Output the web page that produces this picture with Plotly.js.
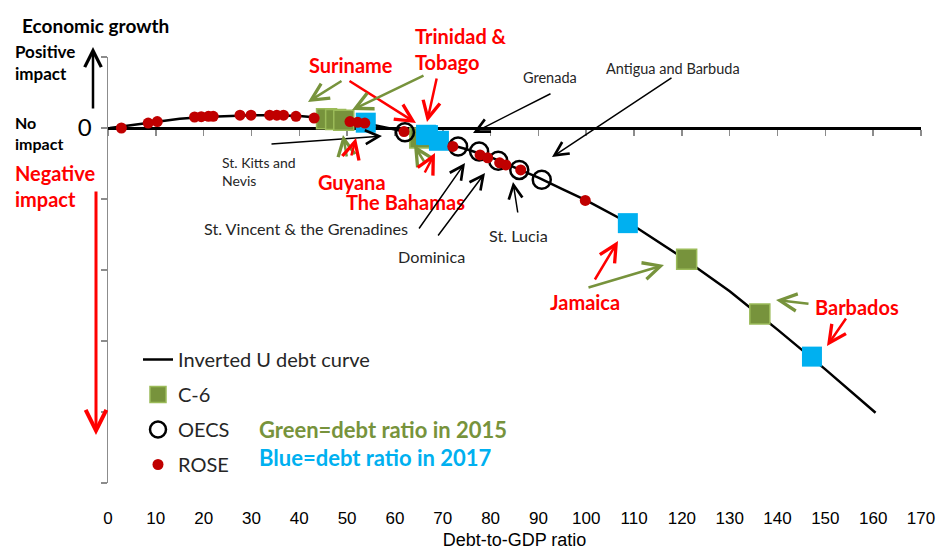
<!DOCTYPE html>
<html><head><meta charset="utf-8">
<script src="https://cdn.plot.ly/plotly-3.0.1.min.js"></script>
<style>html,body{margin:0;padding:0;background:#fff}#chart{width:940px;height:550px}</style>
</head><body><div id="chart"></div>
<script>
// ---- data ----
const xTickVals = [0,10,20,30,40,50,60,70,80,90,100,110,120,130,140,150,160,170];
const xRange = [0, 170];
const yRange = [-5, 1];
const yTickVals = [-5,-4,-3,-2,-1,0,1];
const yTickText = ['','','','','','0',''];

// inverted U debt curve
const curveX = [0.4, 5, 10, 15, 20, 25, 30, 35, 40, 45, 50, 55, 60, 65, 70, 75, 80, 85, 90, 95, 100, 110, 120, 130, 140, 150, 160.5];
const curveY = [0, 0.04, 0.09, 0.13, 0.155, 0.17, 0.18, 0.18, 0.17, 0.14, 0.1, 0.05, -0.02, -0.11, -0.2, -0.3, -0.41, -0.55, -0.7, -0.86, -1.02, -1.38, -1.82, -2.3, -2.84, -3.4, -4.01];

// C-6 debt ratio in 2015 (green) and 2017 (blue)
const c6X2015 = [45.7, 47.6, 49.3, 65.2, 121.0, 136.3];
const c6Y2015 = [0.13, 0.12, 0.11, -0.14, -1.85, -2.62];
const c6X2017 = [53.9, 66.5, 66.9, 69.2, 108.7, 147.2];
const c6Y2017 = [0.075, -0.095, -0.1, -0.18, -1.34, -3.22];

// OECS
const oecsX = [62.1, 73.2, 77.6, 81.6, 86.0, 90.7];
const oecsY = [-0.06, -0.26, -0.33, -0.46, -0.59, -0.73];

// ROSE
const roseX = [2.8, 8.4, 10.3, 18.1, 19.5, 21.0, 22.0, 27.6, 29.9, 33.8, 35.3, 36.7, 39.3, 43.1, 50.6, 52.2, 53.7, 61.9, 72.1, 77.8, 79.4, 81.9, 83.2, 86.3, 99.8];
const roseY = [0.0, 0.07, 0.09, 0.155, 0.16, 0.165, 0.165, 0.18, 0.18, 0.18, 0.18, 0.18, 0.165, 0.14, 0.09, 0.08, 0.07, -0.05, -0.26, -0.38, -0.42, -0.49, -0.52, -0.59, -1.02];

// ---- layout geometry ----
const L = 108, T = 57, W = 813, H = 426;
const px = v => (v - L) / W;
const py = v => (T + H - v) / H;
const GREEN = '#77933C', BLUE = '#00B0F0', RED = '#FF0000', DARKRED = '#C00000';
const FONT = 'Lato, "Open Sans", sans-serif';

const traces = [
  {x: curveX, y: curveY, mode: 'lines', name: 'Inverted U debt curve',
   line: {color: '#000', width: 2.5}, legendgroup: 'a', hoverinfo: 'skip'},
  {x: c6X2015, y: c6Y2015, mode: 'markers', name: 'C-6', legendgroup: 'b',
   marker: {symbol: 'square', size: 20, color: GREEN, line: {color: '#9BBB59', width: 1.5}}},
  {x: c6X2017, y: c6Y2017, mode: 'markers', name: 'C-6 2017', showlegend: false, legendgroup: 'b',
   marker: {symbol: 'square', size: 20, color: BLUE, line: {width: 0}}},
  {x: oecsX, y: oecsY, mode: 'markers', name: 'OECS', legendgroup: 'c',
   marker: {symbol: 'circle-open', size: 18, color: '#000', line: {color: '#000', width: 2.5}}},
  {x: roseX, y: roseY, mode: 'markers', name: 'ROSE', legendgroup: 'd',
   marker: {symbol: 'circle', size: 11, color: DARKRED}},
  {x: [], y: [], xaxis: 'x2', showlegend: false, hoverinfo: 'skip', mode: 'markers'}
];

function txt(text, x, y, size, color, bold, anchor) {
  return {xref: 'paper', yref: 'paper', x: px(x), y: py(y), text: bold ? '<b>' + text + '</b>' : text,
    showarrow: false, xanchor: anchor || 'center', yanchor: 'middle', align: anchor === 'left' ? 'left' : 'center',
    font: {family: FONT, size: size, color: color}};
}
function arr(x0, y0, x1, y1, color, w, s) {
  return {xref: 'paper', yref: 'paper', x: px(x1), y: py(y1), ax: x0 - x1, ay: y0 - y1,
    text: '', showarrow: true, arrowhead: 5, arrowsize: s || 1, arrowwidth: w, arrowcolor: color, standoff: 0, startstandoff: 0};
}

const annotations = [
  txt('Economic growth', 95, 25, 19, '#000', true),
  txt('Positive<br>impact', 13, 63, 17, '#000', true, 'left'),
  txt('No<br>impact', 13, 133, 16, '#000', true, 'left'),
  txt('Negative<br>impact', 13, 186, 20, RED, true, 'left'),
  txt('Suriname', 351, 65, 20, RED, true),
  txt('Trinidad &amp;<br>Tobago', 413, 48.5, 20, RED, true, 'left'),
  txt('Grenada', 550, 77, 14.5, '#262626', false),
  txt('Antigua and Barbuda', 673, 68, 14.5, '#262626', false),
  txt('St. Kitts and<br>Nevis', 220, 171, 14, '#262626', false, 'left'),
  txt('Guyana', 352, 182, 20, RED, true),
  txt('The Bahamas', 405.5, 202, 20, RED, true),
  txt('St. Vincent &amp; the Grenadines', 306, 228, 16.2, '#262626', false),
  txt('Dominica', 431.5, 256.7, 16.2, '#262626', false),
  txt('St. Lucia', 518, 235, 16.2, '#262626', false),
  txt('Jamaica', 585, 302, 20, RED, true),
  txt('Barbados', 857, 307, 20, RED, true),
  txt('Green=debt ratio in 2015', 257, 429, 22, GREEN, true, 'left'),
  txt('Blue=debt ratio in 2017', 257, 457, 22, BLUE, true, 'left'),
  arr(93, 110, 93, 47, '#000', 2.5, 1.3),
  arr(96, 190, 96, 435, RED, 3, 1.35),
  arr(343, 80, 308, 102, GREEN, 2.5, 1.35),
  arr(348, 80, 416, 123, RED, 2.5, 1.35),
  arr(425, 75, 352, 110, GREEN, 2.5, 1.35),
  arr(437, 77, 427, 122, RED, 2.5, 1.35),
  arr(552, 93, 473, 133, '#000', 1.5, 1.8),
  arr(673, 77, 552, 157, '#000', 1.5, 1.8),
  arr(270, 144, 382, 136, '#000', 1.5, 1.8),
  arr(347, 158, 343, 135, GREEN, 2.5, 1.35),
  arr(351, 157, 356, 138, RED, 2.5, 1.35),
  arr(425, 163, 414, 145, GREEN, 2.5, 1.35),
  arr(424, 174, 435, 153, RED, 2.5, 1.35),
  arr(418, 230, 465, 163, '#000', 1.5, 1.8),
  arr(437, 237, 485, 173, '#000', 1.5, 1.8),
  arr(518, 214, 513, 182, '#000', 1.5, 1.8),
  arr(594, 281, 618, 241, RED, 2.5, 1.35),
  arr(587, 288, 664, 265, GREEN, 2.5, 1.35),
  arr(810, 304, 776, 300, GREEN, 2.5, 1.35),
  arr(847, 317, 827, 346, RED, 2.5, 1.35)
];

const layout = {
  width: 940, height: 550,
  margin: {l: L, r: 940 - L - W, t: T, b: 550 - T - H, pad: 0},
  paper_bgcolor: '#fff', plot_bgcolor: '#fff',
  showlegend: true,
  legend: {x: px(138), y: py(340), xanchor: 'left', yanchor: 'top', bgcolor: 'rgba(0,0,0,0)',
    font: {family: FONT, size: 20, color: '#262626'}, tracegroupgap: 6, traceorder: 'grouped'},
  xaxis: {range: xRange, tickmode: 'array', tickvals: xTickVals, showgrid: false, zeroline: false,
    showline: false, ticks: '', ticklabelstandoff: 23,
    tickfont: {family: '"Liberation Sans", Arial, sans-serif', size: 17, color: '#000'},
    title: {text: 'Debt-to-GDP ratio', font: {family: '"Liberation Sans", Arial, sans-serif', size: 18, color: '#000'}, standoff: 9}},
  xaxis2: {range: xRange, overlaying: 'x', anchor: 'free', side: 'bottom',
    position: (0 - yRange[0]) / (yRange[1] - yRange[0]),
    tickmode: 'array', tickvals: xTickVals, showticklabels: false, showgrid: false, zeroline: false,
    showline: true, linecolor: '#000', linewidth: 2.5, ticks: 'outside', ticklen: 6, tickwidth: 1.5, tickcolor: '#8c8c8c',
    layer: 'below traces'},
  yaxis: {range: yRange, tickmode: 'array', tickvals: yTickVals, ticktext: yTickText, showgrid: false, zeroline: false,
    showline: true, linecolor: '#8c8c8c', linewidth: 1.5, ticks: 'outside', ticklen: 6, tickwidth: 1.5, tickcolor: '#8c8c8c',
    ticklabelstandoff: 4, tickfont: {family: FONT, size: 24, color: '#000'}, layer: 'below traces'},
  annotations: annotations
};

Plotly.newPlot('chart', traces, layout, {staticPlot: true, displayModeBar: false});
</script>
</body></html>
